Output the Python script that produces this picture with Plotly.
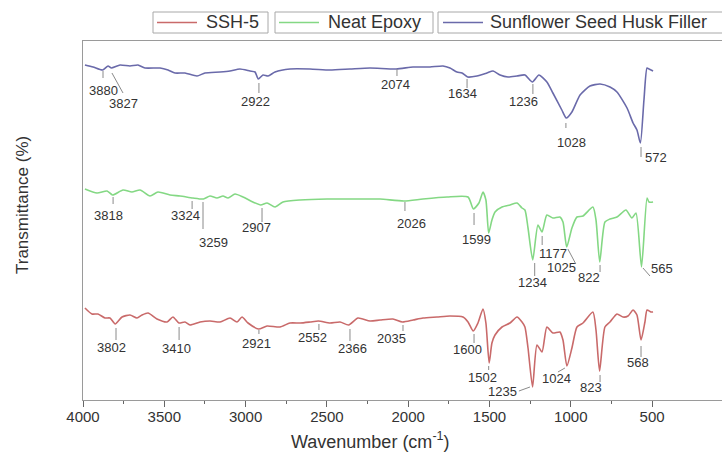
import plotly.graph_objects as go

# ---------------- data (wavenumber in cm^-1, transmittance in arbitrary offset units) ----------------
ssf_wn = [3988, 3938, 3880, 3846, 3827, 3772, 3711, 3662, 3619, 3526, 3477, 3434, 3373, 3299, 3250,
          3157, 3096, 3035, 2973, 2942, 2922, 2893, 2862, 2819, 2727, 2604, 2481, 2358, 2235, 2074,
          1970, 1866, 1786, 1743, 1700, 1669, 1634, 1577, 1516, 1478, 1435, 1386, 1331, 1282, 1236,
          1196, 1147, 1110, 1055, 1028, 993, 943, 882, 820, 759, 716, 654, 617, 593, 572, 550, 531,
          519, 494]
ssf_t = [335, 333, 330, 334, 332, 335, 334, 335, 332, 332, 330, 327, 327, 324, 327,
         328, 329, 331, 329, 328, 321, 325, 324, 328, 331, 331, 330, 331, 332, 331,
         333, 333, 334, 332, 328, 327, 323, 324, 327, 329, 325, 323, 324, 325, 318,
         325, 318, 307, 290, 282, 288, 305, 314, 316, 313, 308, 292, 277, 270, 257, 300, 332,
         331, 329]

epoxy_wn = [3988, 3914, 3852, 3818, 3754, 3699, 3649, 3588, 3539, 3465, 3403, 3324, 3259, 3219, 3176,
            3139, 3108, 3065, 3016, 2955, 2907, 2868, 2819, 2770, 2665, 2499, 2296, 2173, 2026, 1909,
            1761, 1632, 1599, 1565, 1540, 1522, 1505, 1485, 1466, 1423, 1374, 1331, 1300, 1282, 1263,
            1234, 1202, 1177, 1147, 1110, 1067, 1048, 1025, 993, 962, 925, 864, 845, 822, 790, 759,
            716, 661, 624, 599, 565, 531, 519, 494]
epoxy_t = [211, 207, 209, 205, 210, 208, 210, 204, 208, 205, 204, 202, 201, 204, 202,
           204, 202, 206, 203, 198, 195, 197, 193, 198, 200, 201, 201, 201, 199, 201,
           203, 203, 191, 197, 208, 200, 167, 180, 188, 193, 195, 197, 192, 190, 172,
           140, 175, 168, 185, 182, 183, 178, 153, 172, 183, 184, 193, 180, 138, 178, 181,
           183, 190, 182, 187, 133, 202, 198, 198]

ssh_wn = [3988, 3945, 3908, 3865, 3834, 3802, 3760, 3711, 3668, 3637, 3600, 3545, 3483, 3447, 3410,
          3373, 3342, 3280, 3219, 3157, 3096, 3053, 3022, 2985, 2921, 2868, 2788, 2727, 2665, 2604,
          2552, 2481, 2419, 2366, 2309, 2235, 2173, 2094, 2035, 1970, 1909, 1823, 1743, 1663, 1632,
          1600, 1571, 1540, 1522, 1502, 1485, 1466, 1423, 1374, 1331, 1300, 1282, 1263, 1235, 1208,
          1177, 1147, 1110, 1067, 1048, 1024, 993, 962, 925, 864, 845, 823, 790, 759, 716, 679,
          648, 617, 593, 568, 544, 531, 507, 494]
ssh_t = [92, 86, 86, 82, 82, 76, 83, 85, 82, 85, 87, 81, 78, 83, 77,
         78, 75, 78, 79, 78, 82, 78, 83, 77, 71, 74, 73, 77, 77, 78,
         79, 77, 78, 75, 82, 79, 80, 81, 78, 80, 82, 83, 84, 83, 78,
         69, 77, 91, 77, 37, 57, 65, 73, 77, 83, 78, 73, 52, 13, 55,
         48, 73, 67, 68, 60, 34, 52, 73, 77, 88, 70, 29, 73, 78, 86, 83,
         84, 90, 85, 60, 78, 90, 88, 88]

series_names = ["SSH-5", "Neat Epoxy", "Sunflower Seed Husk Filler"]

# peak labels
ssf_labels = ["3880", "3827", "2922", "2074", "1634", "1236", "1028", "572"]
epoxy_labels = ["3818", "3324", "3259", "2907", "2026", "1599", "1234", "1177", "1025", "822", "565"]
ssh_labels = ["3802", "3410", "2921", "2552", "2366", "2035", "1600", "1502", "1235", "1024", "823", "568"]

x_ticks = [4000, 3500, 3000, 2500, 2000, 1500, 1000, 500]
x_minor = [3750, 3250, 2750, 2250, 1750, 1250, 750]

# ---------------- layout / styles ----------------
# leader line (x0, y0, x1, y1) and text centre (x, y) for each peak label
ssf_geom = [((3877, 329, 3877, 322), (3877, 310)),
            ((3822, 327, 3754, 307), (3754, 297)),
            ((2918, 317, 2918, 307), (2942, 299)),
            ((2069, 331, 2069, 324), (2081, 316)),
            ((1638, 321, 1638, 312), (1669, 307)),
            ((1233, 316, 1233, 306), (1288, 299)),
            ((1030, 277, 1030, 272), (993, 258)),
            ((568, 253, 568, 243), (476, 243))]
epoxy_geom = [((3815, 203, 3815, 196), (3846, 185)),
              ((3329, 199, 3329, 191), (3367, 185)),
              ((3262, 198, 3262, 171), (3195, 158)),
              ((2899, 192, 2899, 178), (2930, 173)),
              ((2020, 198, 2020, 189), (1977, 177)),
              ((1595, 187, 1595, 175), (1577, 161)),
              ((1222, 137, 1222, 124), (1233, 118)),
              ((1176, 164, 1176, 155), (1110, 147)),
              ((1018, 151, 969, 136), (1055, 133)),
              ((820, 135, 820, 128), (888, 123)),
              ((556, 132, 513, 124), (439, 132))]
ssh_geom = [((3797, 72, 3797, 60), (3822, 53)),
            ((3409, 73, 3409, 60), (3422, 52)),
            ((2918, 70, 2918, 66), (2936, 57)),
            ((2549, 76, 2549, 70), (2586, 63)),
            ((2358, 71, 2358, 59), (2340, 52)),
            ((2032, 75, 2032, 69), (2100, 62)),
            ((1595, 66, 1595, 57), (1638, 51)),
            ((1505, 34, 1505, 30), (1540, 23)),
            ((1251, 13, 1319, 9), (1423, 9)),
            ((1036, 32, 1079, 28), (1085, 22)),
            ((820, 25, 820, 18), (875, 13)),
            ((568, 54, 568, 43), (587, 38))]

colors = ["#c96a6a", "#84d884", "#6a6aaa"]
FONT = "Liberation Sans, Arial, sans-serif"
TXT = "#333333"
FRAME = "#9a9a9a"

W, H = 722, 453
ML, MT, MB = 83, 41, 53
PW, PH = W - ML, H - MT - MB


def px(xp):
    return (xp - ML) / PW


def py(yp):
    return (H - MB - yp) / PH


fig = go.Figure()
for name, wn, t, c in zip(series_names, (ssh_wn, epoxy_wn, ssf_wn), (ssh_t, epoxy_t, ssf_t), colors):
    fig.add_trace(go.Scatter(x=wn, y=t, mode="lines", name=name, showlegend=False,
                             line=dict(color=c, width=1.6, shape="spline", smoothing=0.6)))

shapes = []
annotations = []
for labels, geom in ((ssf_labels, ssf_geom), (epoxy_labels, epoxy_geom), (ssh_labels, ssh_geom)):
    for lab, ((x0, y0, x1, y1), (tx, ty)) in zip(labels, geom):
        shapes.append(dict(type="line", xref="x", yref="y", x0=x0, y0=y0, x1=x1, y1=y1,
                           line=dict(color="#8a8a8a", width=1)))
        annotations.append(dict(x=tx, y=ty, xref="x", yref="y", text=lab, showarrow=False,
                                xanchor="center", yanchor="middle",
                                font=dict(family=FONT, size=13, color=TXT)))

# hand-drawn boxed legend entries (box x0, x1, line x0, x1, text x)
legend_geom = [(153, 268, 157, 197, 204),
               (275, 433, 279, 319, 326),
               (438, 760, 443, 483, 488)]
for name, c, (bx0, bx1, lx0, lx1, tx) in zip(series_names, colors, legend_geom):
    shapes.append(dict(type="rect", xref="paper", yref="paper",
                       x0=px(bx0), x1=px(bx1), y0=py(33), y1=py(12),
                       line=dict(color="#a8a8a8", width=1), fillcolor="white"))
    shapes.append(dict(type="line", xref="paper", yref="paper",
                       x0=px(lx0), x1=px(lx1), y0=py(22.5), y1=py(22.5),
                       line=dict(color=c, width=1.5)))
    annotations.append(dict(x=px(tx), y=py(22.5), xref="paper", yref="paper", text=name,
                            showarrow=False, xanchor="left", yanchor="middle",
                            font=dict(family=FONT, size=18, color=TXT)))

annotations.append(dict(x=px(370), y=py(440), xref="paper", yref="paper", yanchor="middle",
                        xanchor="center", text="Wavenumber (cm<sup>-1</sup>)", showarrow=False,
                        font=dict(family=FONT, size=18, color=TXT)))
annotations.append(dict(x=px(22), y=py(205), xref="paper", yref="paper", textangle=-90,
                        xanchor="center", yanchor="middle",
                        text="Transmittance (%)", showarrow=False,
                        font=dict(family=FONT, size=17, color=TXT)))

fig.update_layout(
    width=W, height=H,
    margin=dict(l=ML, r=0, t=MT, b=MB, autoexpand=False),
    paper_bgcolor="white", plot_bgcolor="white",
    showlegend=False,
    shapes=shapes,
    annotations=annotations,
    xaxis=dict(range=[4000, 70], tickmode="array", tickvals=x_ticks,
               showgrid=False, zeroline=False,
               showline=True, linecolor=FRAME, linewidth=1, mirror=True,
               ticks="outside", ticklen=6, tickwidth=1, tickcolor="#666",
               ticklabelstandoff=-3,
               tickfont=dict(family=FONT, size=15, color=TXT),
               minor=dict(tickmode="array", tickvals=x_minor, ticks="outside",
                          ticklen=3, tickwidth=1, tickcolor="#666")),
    yaxis=dict(range=[0, 359], showgrid=False, zeroline=False, showticklabels=False,
               ticks="", showline=True, linecolor=FRAME, linewidth=1, mirror=False),
)

fig.write_html("out.html")
